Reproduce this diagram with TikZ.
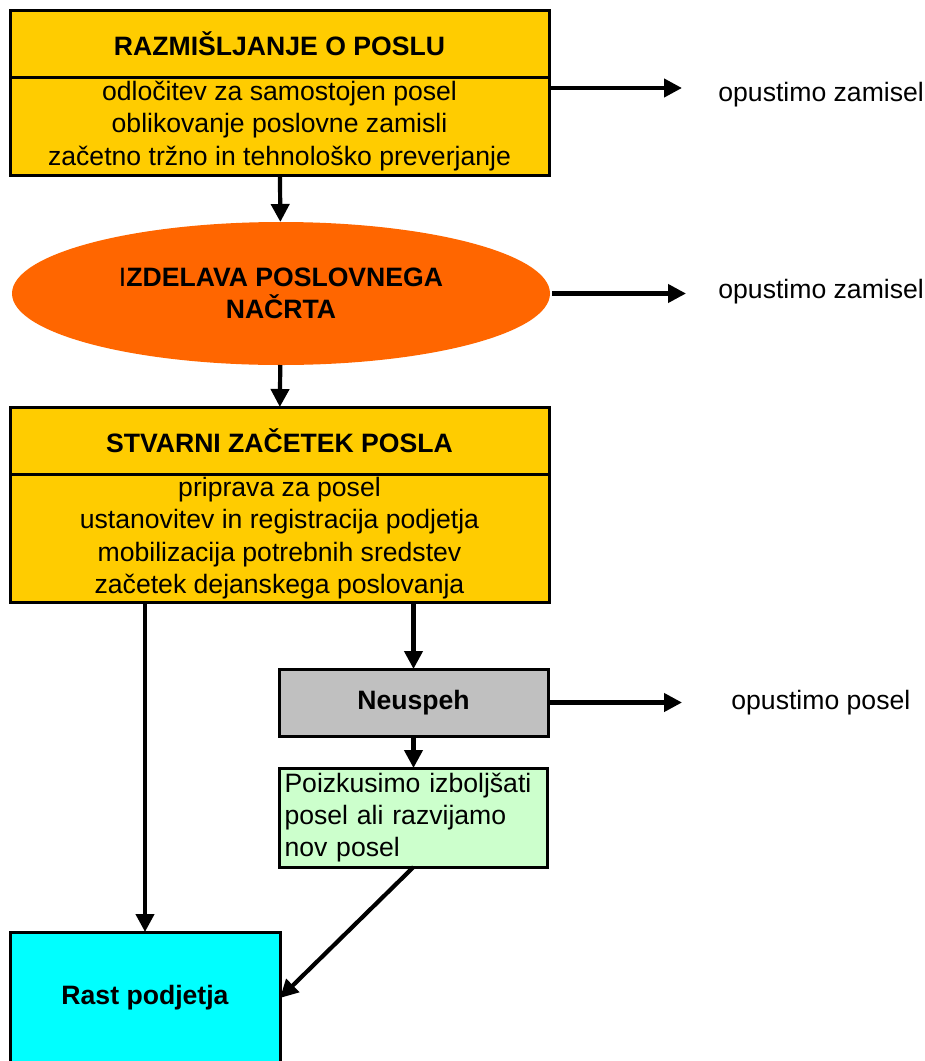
\documentclass[tikz,border=0pt]{standalone}
\usepackage{fontspec}
\setmainfont{Liberation Sans}
\usetikzlibrary{positioning,shapes.geometric,arrows.meta}
\definecolor{zlata}{HTML}{FFCC00}
\definecolor{oranzna}{HTML}{FF6600}
\definecolor{siva}{HTML}{C0C0C0}
\definecolor{zelena}{HTML}{CCFFCC}
\definecolor{cian}{HTML}{00FFFF}
\newcommand{\besedilo}{\fontsize{13.3pt}{16.2pt}\selectfont}
\begin{document}
\begin{tikzpicture}[
       x=0.5pt, y=-0.5pt,
       naslov/.style={rectangle, draw=black, line width=1.5pt, minimum width=269.5pt, minimum height=33.5pt, align=center, fill=zlata, outer sep=0pt, font=\besedilo\bfseries},
       opis/.style={rectangle, draw=black, line width=1.5pt, minimum width=269.5pt, inner ysep=1pt, align=center, fill=zlata, outer sep=0pt, font=\besedilo},
       nacrt/.style={ellipse, fill=oranzna, minimum width=269pt, minimum height=71.5pt, inner sep=0pt, outer sep=0pt, align=center, font=\besedilo\bfseries},
       neuspeh/.style={rectangle, draw=black, line width=1.5pt, minimum width=134.5pt, minimum height=33.5pt, fill=siva, outer sep=0pt, font=\besedilo\bfseries},
       poskus/.style={rectangle, draw=black, line width=1.5pt, minimum height=49.5pt, text width=129pt, inner xsep=2.5pt, inner ysep=1pt, align=left, fill=zelena, outer sep=0pt, font=\besedilo},
       rast/.style={rectangle, draw=black, line width=1.5pt, minimum width=135pt, minimum height=66pt, fill=cian, outer sep=0pt, font=\besedilo\bfseries},
       izhod/.style={inner sep=0pt, anchor=west, font=\besedilo},
       arrow/.style={-{Triangle[length=9pt,width=9pt]}, line width=2.1pt, black}
   ]
   \useasboundingbox (0,0) rectangle (925,1061);

   \node[naslov] (razm) at (279.5,43.5) {RAZMIŠLJANJE O POSLU};
   \node[opis, minimum height=49pt, below=0pt of razm] (razmopis) {odločitev za samostojen posel\\oblikovanje poslovne zamisli\\začetno tržno in tehnološko preverjanje};
   \node[nacrt, below=23.5pt of razmopis, xshift=0.75pt] (nacrt) {{\mdseries I}ZDELAVA POSLOVNEGA\\NAČRTA};
   \node[naslov, below=21pt of nacrt, xshift=-0.75pt] (zacetek) {STVARNI ZAČETEK POSLA};
   \node[opis, minimum height=64pt, below=0pt of zacetek] (zacopis) {priprava za posel\\ustanovitev in registracija podjetja\\mobilizacija potrebnih sredstev\\začetek dejanskega poslovanja};
   \node[neuspeh, below=33.5pt of zacopis.south east, anchor=north east, xshift=-0.5pt] (neusp) {Neuspeh};
   \node[poskus, below=16pt of neusp] (poskus) {Poizkusimo izboljšati\\posel ali razvijamo\\nov posel};
   \node[rast, below=165pt of zacopis.south west, anchor=north west] (rast) {Rast podjetja};

   \node[izhod] (opust1) at (718,95) {opustimo zamisel};
   \node[izhod] (opust2) at (718,292) {opustimo zamisel};
   \node[izhod] (opust3) at (731,703) {opustimo posel};
   \coordinate (k1) at (682,88);
   \coordinate (k2) at (686,294);
   \coordinate (k3) at (682,703);

   \draw[arrow] (razmopis.east |- k1) -- (k1);
   \draw[arrow] ([xshift=1pt]nacrt.east) -- (nacrt.east -| k2);
   \draw[arrow] (neusp.east) -- (neusp.east -| k3);
   \draw[arrow] (razmopis) -- (nacrt);
   \draw[arrow] (nacrt) -- (zacetek);
   \draw[arrow] (rast.north |- zacopis.south) -- (rast.north);
   \draw[arrow] (neusp.north |- zacopis.south) -- (neusp.north);
   \draw[arrow] (neusp) -- (poskus);
   \draw[arrow] (poskus.south) -- (rast.east);
\end{tikzpicture}
\end{document}
